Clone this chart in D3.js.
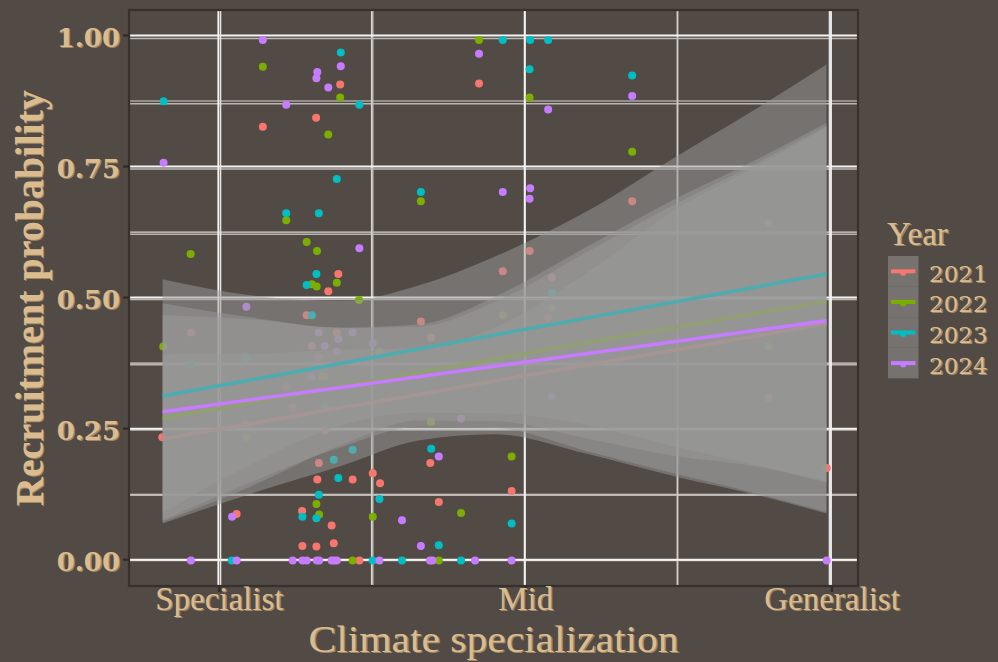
<!DOCTYPE html>
<html><head><meta charset="utf-8">
<script src="https://cdn.jsdelivr.net/npm/d3@7"></script>
<style>html,body{margin:0;padding:0;background:#524a45;}svg{display:block;}</style>
</head><body>
<script>
// ---------------- DATA ----------------
const years = ["2021", "2022", "2023", "2024"];
const xTicks = [-1, 0, 1];
const xTickLabels = ["Specialist", "Mid", "Generalist"];
const xMinor = [-0.5, 0.5];
const yTicks = [0, 0.25, 0.5, 0.75, 1];
const yTickLabels = ["0.00", "0.25", "0.50", "0.75", "1.00"];
const yMinor = [0.125, 0.375, 0.625, 0.875];

const pts2021 = [[-0.607,0.912],[-0.686,0.848],[-0.861,0.831],[-0.613,0.549],[-0.646,0.516],[-0.717,0.470],[-1.097,0.437],[-0.618,0.437],[-0.700,0.411],[-0.677,0.390],[-0.784,0.333],[-0.763,0.293],[-0.915,0.261],[-0.657,0.249],[-1.191,0.236],[-0.677,0.187],[-0.682,0.155],[-0.566,0.155],[-0.500,0.167],[-0.476,0.148],[-0.732,0.095],[-0.947,0.089],[-0.635,0.067],[-0.731,0.028],[-0.685,0.027],[-0.628,0.033],[-0.544,0],[-0.342,0.458],[-0.309,0.427],[-0.311,0.187],[-0.044,0.133],[-0.283,0.112],[-0.151,0.914],[0.015,0.593],[-0.073,0.554],[0.088,0.542],[0.075,0.465],[0.352,0.688],[0.799,0.312],[0.991,0.177]];
const pts2022 = [[-0.861,0.946],[-0.607,0.887],[-0.646,0.816],[-0.784,0.652],[-0.717,0.610],[-0.683,0.593],[-1.098,0.587],[-0.618,0.532],[-0.700,0.529],[-0.684,0.525],[-0.545,0.499],[-1.188,0.410],[-0.668,0.352],[-0.657,0.352],[-0.915,0.236],[-0.685,0.108],[-0.676,0.088],[-0.500,0.084],[-0.566,0],[-0.478,0.400],[-0.072,0.470],[0.088,0.483],[-0.309,0.266],[-0.044,0.199],[-0.210,0.091],[-0.283,0],[-0.151,0.997],[0.015,0.887],[-0.342,0.688],[0.352,0.783],[0.799,0.410]];
const pts2023 = [[-0.605,0.973],[-1.187,0.880],[-0.544,0.873],[-0.618,0.731],[-0.784,0.665],[-0.677,0.665],[-0.685,0.549],[-0.717,0.528],[-0.700,0.470],[-1.097,0.375],[-0.915,0.389],[-0.657,0.293],[-0.566,0.212],[-0.628,0.193],[-0.613,0.158],[-0.677,0.126],[-0.478,0.118],[-0.731,0.084],[-0.685,0.081],[-0.963,0],[-0.500,0],[0.088,0.513],[-0.308,0.214],[-0.044,0.071],[-0.283,0.029],[-0.404,0],[-0.210,0],[-0.073,0.997],[0.017,0.997],[0.076,0.997],[0.015,0.941],[-0.342,0.706],[0.352,0.929]];
const pts2024 = [[-0.861,0.997],[-0.605,0.947],[-0.682,0.936],[-0.685,0.924],[-0.646,0.906],[-0.784,0.873],[-1.187,0.762],[-0.544,0.598],[-0.915,0.486],[-0.677,0.437],[-0.566,0.437],[-0.613,0.424],[-0.658,0.411],[-0.500,0.416],[-0.618,0.400],[-0.700,0.352],[-0.962,0.084],[-1.097,0],[-0.947,0],[-0.763,0],[-0.731,0],[-0.717,0],[-0.684,0],[-0.676,0],[-0.635,0],[-0.627,0],[-0.618,0],[-0.478,0],[-0.312,0],[-0.304,0],[-0.164,0],[-0.044,0],[0.991,0],[0.088,0.314],[-0.210,0.272],[-0.283,0.199],[-0.404,0.077],[-0.342,0.028],[-0.151,0.971],[0.076,0.864],[-0.073,0.706],[0.017,0.713],[0.015,0.693],[0.352,0.890],[0.799,0.646]];

// smooth (lm fit) readings at stations
const smoothX = [-1.19, -0.9, -0.6, -0.35, -0.1, 0.2, 0.5, 0.75, 0.99];
const fit2021 = [0.233, 0.262, 0.293, 0.318, 0.344, 0.374, 0.404, 0.429, 0.454];
const up2021  = [0.395, 0.396, 0.404, 0.406, 0.446, 0.550, 0.675, 0.752, 0.830];
const lo2021  = [0.071, 0.128, 0.182, 0.230, 0.242, 0.205, 0.160, 0.127, 0.090];
const fit2022 = [0.272, 0.302, 0.334, 0.360, 0.386, 0.417, 0.447, 0.473, 0.496];
const up2022  = [0.470, 0.462, 0.446, 0.452, 0.505, 0.600, 0.695, 0.765, 0.838];
const lo2022  = [0.074, 0.142, 0.222, 0.268, 0.267, 0.234, 0.199, 0.181, 0.152];
const fit2023 = [0.315, 0.346, 0.378, 0.405, 0.432, 0.464, 0.496, 0.523, 0.549];
const up2023  = [0.539, 0.508, 0.497, 0.527, 0.582, 0.668, 0.775, 0.862, 0.950];
const lo2023  = [0.091, 0.184, 0.259, 0.283, 0.282, 0.260, 0.217, 0.184, 0.149];
const fit2024 = [0.285, 0.308, 0.332, 0.352, 0.372, 0.396, 0.420, 0.440, 0.459];
const up2024  = [0.493, 0.466, 0.446, 0.448, 0.495, 0.590, 0.685, 0.758, 0.833];
const lo2024  = [0.077, 0.150, 0.218, 0.256, 0.254, 0.210, 0.165, 0.130, 0.093];

// ---------------- STYLE ----------------
const colors = ["#F8766D", "#7CAE00", "#00BFC4", "#C77CFF"];
const BG = "#524a45", TXT = "#dbbc8e", TXT_SH = "#9f8765";
const W = 998, H = 662;
const panel = {l: 129, r: 858, t: 10, b: 586};
const RIB_OP = 0.5;

const series = [
  {pts: pts2021, fit: fit2021, up: up2021, lo: lo2021},
  {pts: pts2022, fit: fit2022, up: up2022, lo: lo2022},
  {pts: pts2023, fit: fit2023, up: up2023, lo: lo2023},
  {pts: pts2024, fit: fit2024, up: up2024, lo: lo2024}
];

// scales (data/points) and a slightly offset "ghost" grid scale
const x = d3.scaleLinear().domain([-1, 1]).range([220.5, 829.5]);
const y = d3.scaleLinear().domain([0, 1]).range([560.5, 38.5]);
const xg = d3.scaleLinear().domain([-1, 1]).range([218.3, 831]);
const yg = d3.scaleLinear().domain([0, 1]).range([559.7, 35.5]);

const svg = d3.select("body").append("svg").attr("width", W).attr("height", H);
svg.append("rect").attr("width", W).attr("height", H).attr("fill", BG);

svg.append("clipPath").attr("id", "clip").append("rect")
  .attr("x", panel.l).attr("y", panel.t).attr("width", panel.r - panel.l).attr("height", panel.b - panel.t);

const grid = svg.append("g").attr("clip-path", "url(#clip)");
// minor grid
yMinor.forEach(v => {
  grid.append("line").attr("x1", panel.l).attr("x2", panel.r).attr("y1", y(v)).attr("y2", y(v))
    .attr("stroke", "#b9b5b1").attr("stroke-width", 1.6);
  grid.append("line").attr("x1", panel.l).attr("x2", panel.r).attr("y1", yg(v)).attr("y2", yg(v))
    .attr("stroke", "#d6d3d0").attr("stroke-width", 1.1);
});
xMinor.forEach(v => {
  grid.append("line").attr("y1", panel.t).attr("y2", panel.b).attr("x1", x(v)).attr("x2", x(v))
    .attr("stroke", "#bdb9b5").attr("stroke-width", 1.6);
  grid.append("line").attr("y1", panel.t).attr("y2", panel.b).attr("x1", xg(v)).attr("x2", xg(v))
    .attr("stroke", "#d8d5d2").attr("stroke-width", 1.1);
});
// major grid
yTicks.forEach(v => {
  grid.append("line").attr("x1", panel.l).attr("x2", panel.r).attr("y1", y(v)).attr("y2", y(v))
    .attr("stroke", "#bcb8b4").attr("stroke-width", 1.7);
  grid.append("line").attr("x1", panel.l).attr("x2", panel.r).attr("y1", yg(v)).attr("y2", yg(v))
    .attr("stroke", "#f4f4f4").attr("stroke-width", 2);
});
xTicks.forEach(v => {
  grid.append("line").attr("y1", panel.t).attr("y2", panel.b).attr("x1", x(v)).attr("x2", x(v))
    .attr("stroke", "#e6e4e2").attr("stroke-width", 1.6);
  grid.append("line").attr("y1", panel.t).attr("y2", panel.b).attr("x1", xg(v)).attr("x2", xg(v))
    .attr("stroke", "#f4f4f4").attr("stroke-width", 1.8);
});

const plot = svg.append("g").attr("clip-path", "url(#clip)");
// points
series.forEach((s, i) => {
  plot.append("g").selectAll("circle").data(s.pts).join("circle")
    .attr("cx", d => x(d[0])).attr("cy", d => y(d[1])).attr("r", 4)
    .attr("fill", colors[i]);
});
// smooths: ribbon then line, per group
const area = d3.area().x(d => x(d.x)).y0(d => y(d.lo)).y1(d => y(d.hi)).curve(d3.curveMonotoneX);
const line = d3.line().x(d => x(d.x)).y(d => y(d.f));
series.forEach((s, i) => {
  const rows = smoothX.map((xv, k) => ({x: xv, f: s.fit[k], lo: s.lo[k], hi: s.up[k]}));
  plot.append("path").attr("d", area(rows)).attr("fill", "#999999").attr("fill-opacity", RIB_OP);
  plot.append("path").attr("d", line(rows)).attr("fill", "none")
    .attr("stroke", colors[i]).attr("stroke-width", 3.6);
});

// panel border
svg.append("rect").attr("x", panel.l).attr("y", panel.t).attr("width", panel.r - panel.l).attr("height", panel.b - panel.t)
  .attr("fill", "none").attr("stroke", "#37312d").attr("stroke-width", 2.2);

// ticks
yTicks.forEach(v => {
  svg.append("line").attr("x1", 123).attr("x2", panel.l).attr("y1", yg(v)).attr("y2", yg(v))
    .attr("stroke", "#2f2a27").attr("stroke-width", 2.2);
});
xTicks.forEach(v => {
  svg.append("line").attr("y1", panel.b).attr("y2", panel.b + 6).attr("x1", xg(v) + 1).attr("x2", xg(v) + 1)
    .attr("stroke", "#2f2a27").attr("stroke-width", 2.2);
});

// text helper with doubled/shadow look
function txt(str, tx, ty, o) {
  const g = svg.append("g");
  [[1.4, 1.0, TXT_SH], [0, 0, TXT]].forEach(([dx, dy, c]) => {
    const t = g.append("text").text(str)
      .attr("transform", `translate(${tx + dx},${ty + dy})` + (o.rot ? ` rotate(${o.rot})` : ""))
      .attr("fill", c).attr("font-family", o.font).attr("font-size", o.size)
      .attr("font-weight", o.weight || "normal").attr("text-anchor", o.anchor || "start");
    if (o.baseline) t.attr("dominant-baseline", o.baseline);
    if (o.len) t.attr("textLength", o.len).attr("lengthAdjust", "spacingAndGlyphs");
  });
}

// y tick labels
yTicks.forEach((v, i) => {
  txt(yTickLabels[i], 120, yg(v) + 2, {font: "DejaVu Serif", size: 26, weight: "bold", anchor: "end", baseline: "central"});
});
// x tick labels
xTicks.forEach((v, i) => {
  txt(xTickLabels[i], xg(v) + 1, 610, {font: "Liberation Serif", size: 33, anchor: "middle"});
});
// axis titles
txt("Climate specialization", (panel.l + panel.r) / 2, 652, {font: "Liberation Serif", size: 38, anchor: "middle", len: 370});
txt("Recruitment probability", 43, (panel.t + panel.b) / 2, {font: "Liberation Serif", size: 40, weight: "bold", anchor: "middle", rot: -90});

// legend
txt("Year", 887, 245, {font: "Liberation Serif", size: 33});
const keyH = 30.6, keyTop = 256, keyX = 888, keyW = 30.5;
years.forEach((yr, i) => {
  const cy = keyTop + keyH * (i + 0.5);
  svg.append("rect").attr("x", keyX).attr("y", keyTop + keyH * i).attr("width", keyW).attr("height", keyH)
    .attr("fill", "#999999").attr("fill-opacity", RIB_OP);
  svg.append("line").attr("x1", keyX + 3).attr("x2", keyX + keyW - 3).attr("y1", cy).attr("y2", cy)
    .attr("stroke", colors[i]).attr("stroke-width", 4);
  svg.append("circle").attr("cx", keyX + keyW / 2).attr("cy", cy + 1.5).attr("r", 3).attr("fill", colors[i]);
  txt(yr, 929, cy + 2.5, {font: "DejaVu Serif", size: 23, baseline: "central"});
});
</script>
</body></html>
